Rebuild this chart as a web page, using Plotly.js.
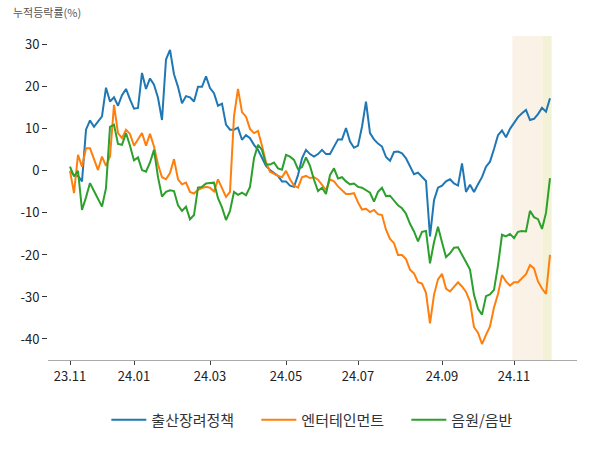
<!DOCTYPE html>
<html>
<head>
<meta charset="utf-8">
<script src="https://cdn.plot.ly/plotly-3.0.1.min.js"></script>
<style>html,body{margin:0;padding:0;background:#fff;}#chart{width:600px;height:450px;}</style>
</head>
<body>
<div id="chart"></div>
<script>
const seriesNames = ['출산장려정책', '엔터테인먼트', '음원/음반'];
const seriesColors = ['#1f77b4', '#ff7f0e', '#2ca02c'];

const birthPolicy = [0,-1,-1.2,-2.5,9.8,12,10.5,11.8,13,19.8,16.5,17.5,15.5,18,19.5,17,14.8,15,23.3,19.5,22,20.5,17.4,12.1,26.5,28.8,23,20,16.1,17.8,17.5,16.5,20,20,22.5,19.7,18.5,15.5,16,11,9.8,9.8,10.3,7.4,8.5,7.8,6.2,5,3,1.2,0.2,-0.4,-1.2,-2.5,-2.5,-3.5,-3.8,-1,3,5,4,3.4,4,5,4,4,5.8,7.5,7.5,10.2,7,5.5,6,10.5,16.5,9,7.5,6.5,5.8,3.3,2.4,4.5,4.6,4.2,3,1.2,-0.8,-0.4,-1.3,-2.4,-15.6,-7,-4,-3.5,-2.5,-2,-3,-3.5,1.8,-5,-3.3,-5,-3.2,-1.5,1,2.2,5.2,8.5,9.6,8,10,11.3,12.8,13.7,14.5,12.1,12.4,13.5,15,14.1,17.3];

const entertainment = [0,-5.3,3.8,1,5.4,5.4,2.8,0.2,3.4,1.2,3.4,15.7,9,7.8,9.8,8.8,6,7.6,9,6,8.8,5.8,1.5,-1.5,-2,-0.5,2.8,-2,-3.2,-2.8,-5,-5.4,-4.5,-4.1,-3.8,-4,-4.9,-2,-4.1,-6.2,-5,13,19.5,14,12.9,10,9,9.5,6,2,-0.2,-0.8,-1.2,-1.5,0,-2,-3.5,-4,-1.5,-1.2,-1.7,-1.5,-2.1,-3.3,-4.6,-2,-2.5,-3.7,-4.6,-5.5,-5.5,-5.3,-7.5,-9.2,-9,-9.8,-9.3,-10.3,-10.5,-14,-16.2,-17.2,-20,-20,-21,-23.5,-24.4,-26.5,-26.8,-29,-36.3,-29.5,-25.8,-24.5,-28,-28.7,-27.6,-26.5,-27.5,-28.8,-31.1,-37.2,-38.5,-41.2,-39,-37,-32.5,-29.3,-24.8,-26.3,-27.3,-26.5,-26.5,-25.6,-24.6,-22.4,-23.2,-26.3,-28,-29.3,-20];

const musicAlbum = [1,-1.3,0,-9.3,-6.3,-2.9,-4.8,-6.5,-8.5,-4.1,10.5,11,6.4,6.2,9,6,2.5,3.2,0.2,-0.2,2,5,-1.5,-6.1,-5,-4.6,-4.8,-8.2,-9.5,-8.5,-11.5,-10.5,-4,-3.8,-3,-2.9,-2.8,-6.5,-8.7,-11.7,-9.5,-5,-5.7,-5.2,-5.8,-3.8,3,6.2,5,1.5,1.5,2,0.6,0.3,3.8,3.4,2.6,0.4,0.9,3.2,1.2,-2.1,-4.8,-4,-5.5,-1,0.6,-1.8,-1.5,-2.5,-3.2,-3,-3.8,-4,-4.5,-5.2,-7.3,-5,-4,-6,-5.9,-7,-8.2,-8.9,-10.2,-12.6,-14.4,-16.8,-14.5,-14.3,-22,-17,-13.3,-17,-20.5,-19.6,-18.3,-18.2,-19.8,-21.7,-23.5,-29.5,-32.8,-34.2,-29.8,-29.4,-28.3,-22.5,-15.2,-15.6,-15,-16,-14.5,-14.3,-14.4,-9.5,-11,-11.5,-13.8,-10,-1.7];

const tickIndex = [0, 16, 35, 54, 72, 93, 111];
const tickLabels = ['23.11', '24.01', '24.03', '24.05', '24.07', '24.09', '24.11'];
const yTickVals = [-40, -30, -20, -10, 0, 10, 20, 30];
const yTickLabels = ['-40', '-30', '-20', '-10', '0', '10', '20', '30'];

const shadeSpans = [[110.6, 118.1], [118.1, 120.4]];
const shadeColors = ['rgb(250,241,231)', 'rgb(243,241,214)'];

const dayIndex = birthPolicy.map((_, i) => i);
const allSeries = [birthPolicy, entertainment, musicAlbum];

const traces = allSeries.map((vals, k) => ({
  x: dayIndex,
  y: vals,
  type: 'scatter',
  mode: 'lines',
  name: seriesNames[k],
  line: {color: seriesColors[k], width: 2}
}));

const shapes = shadeSpans.map((s, k) => ({
  type: 'rect', xref: 'x', yref: 'paper',
  x0: s[0], x1: s[1], y0: 0, y1: 1,
  fillcolor: shadeColors[k], line: {width: 0}, layer: 'below'
}));

const fontFam = '"Noto Sans CJK KR", "Noto Sans", sans-serif';

const layout = {
  width: 600, height: 450,
  margin: {l: 48, r: 23, t: 36, b: 90},
  paper_bgcolor: '#fff', plot_bgcolor: '#fff',
  font: {family: fontFam, size: 13, color: '#222'},
  showlegend: true,
  legend: {
    orientation: 'h', x: 0.5356, xanchor: 'center', y: -0.185, yanchor: 'middle',
    entrywidth: 100, entrywidthmode: 'pixels', itemwidth: 35,
    font: {size: 15, color: '#333'}
  },
  xaxis: {
    range: [-5.5, 126.75],
    tickmode: 'array', tickvals: tickIndex, ticktext: tickLabels,
    showgrid: false, zeroline: false,
    showline: true, linecolor: '#aaaaaa', linewidth: 1,
    ticks: 'outside', ticklen: 4, tickcolor: '#444',
    tickfont: {size: 13, color: '#222'}
  },
  yaxis: {
    range: [-45, 32.1],
    tickmode: 'array', tickvals: yTickVals, ticktext: yTickLabels,
    showgrid: false, zeroline: false, showline: false,
    ticks: 'outside', ticklen: 5, tickcolor: '#333',
    tickfont: {size: 13, color: '#222'}
  },
  shapes: shapes,
  annotations: [{
    text: '누적등락률(%)', xref: 'paper', yref: 'paper',
    x: -0.07, y: 1.042, xanchor: 'left', yanchor: 'bottom',
    showarrow: false, font: {size: 11, color: '#555'}
  }]
};

Plotly.newPlot('chart', traces, layout, {displayModeBar: false, staticPlot: true});
</script>
</body>
</html>
